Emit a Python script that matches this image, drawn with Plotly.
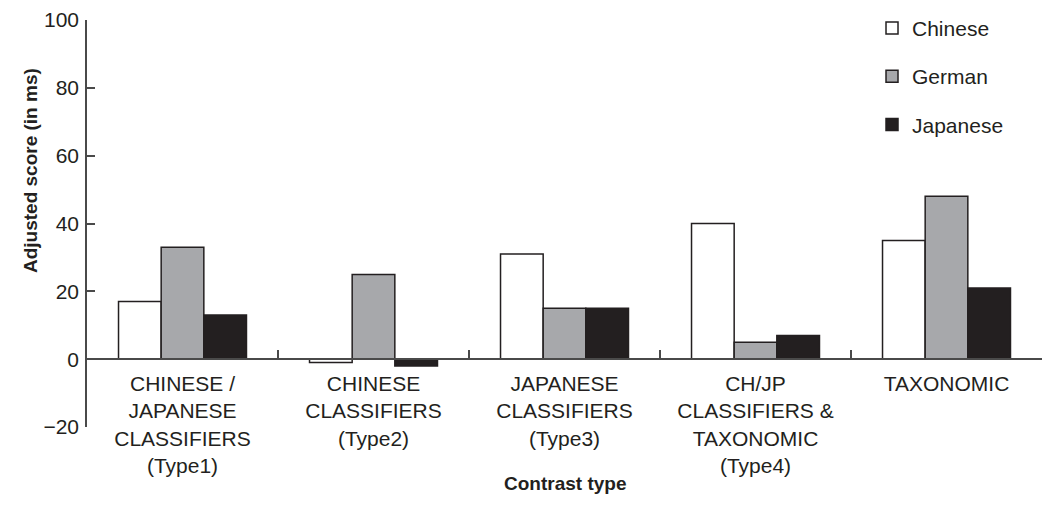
import plotly.graph_objects as go

categories = [
    "CHINESE /<br>JAPANESE<br>CLASSIFIERS<br>(Type1)",
    "CHINESE<br>CLASSIFIERS<br>(Type2)",
    "JAPANESE<br>CLASSIFIERS<br>(Type3)",
    "CH/JP<br>CLASSIFIERS &<br>TAXONOMIC<br>(Type4)",
    "TAXONOMIC",
]
chinese = [17, -1, 31, 40, 35]
german = [33, 25, 15, 5, 48]
japanese = [13, -2, 15, 7, 21]

y_ticks = [-20, 0, 20, 40, 60, 80, 100]

FONT = "Liberation Sans, Arial, Helvetica, sans-serif"
INK = "#231F20"
AXIS = "#4a4a4a"

series = [
    ("Chinese", chinese, "#FFFFFF"),
    ("German", german, "#A7A8AB"),
    ("Japanese", japanese, INK),
]

fig = go.Figure()
for name, vals, color in series:
    fig.add_trace(go.Bar(
        x=categories, y=vals, name=name, legendgroup=name,
        marker=dict(color=color, line=dict(color=INK, width=1.5)),
    ))

fig.update_layout(
    width=1046, height=512,
    margin=dict(l=87, r=4, t=20, b=85),
    paper_bgcolor="white", plot_bgcolor="white",
    font=dict(family=FONT, size=21, color=INK),
    barmode="group", bargap=0.33, bargroupgap=0,
    showlegend=True,
    legend=dict(
        x=0.822, y=1.03, xanchor="left", yanchor="top",
        traceorder="grouped", tracegroupgap=18,
        font=dict(size=21), bgcolor="rgba(0,0,0,0)",
    ),
    xaxis=dict(
        anchor="free", position=20 / 120,
        showline=True, linecolor=AXIS, linewidth=1.5,
        ticks="inside", ticklen=8, tickwidth=1.5, tickcolor=AXIS,
        tickson="boundaries", showgrid=False,
        tickfont=dict(size=21), ticklabelstandoff=6,
    ),
    yaxis=dict(
        range=[-20, 100], tickvals=y_ticks,
        showline=True, linecolor=AXIS, linewidth=1.5,
        ticks="inside", ticklen=8, tickwidth=1.5, tickcolor=AXIS,
        showgrid=False, zeroline=False,
        tickfont=dict(size=21), ticklabelstandoff=2,
    ),
    annotations=[
        dict(text="<b>Adjusted score (in ms)</b>", textangle=-90,
             xref="paper", yref="paper", x=-0.0723, y=0.63,
             showarrow=False, font=dict(size=19)),
        dict(text="<b>Contrast type</b>",
             xref="paper", yref="paper", x=0.5, y=-0.17,
             showarrow=False, font=dict(size=19)),
    ],
)

fig.write_html("out.html")
